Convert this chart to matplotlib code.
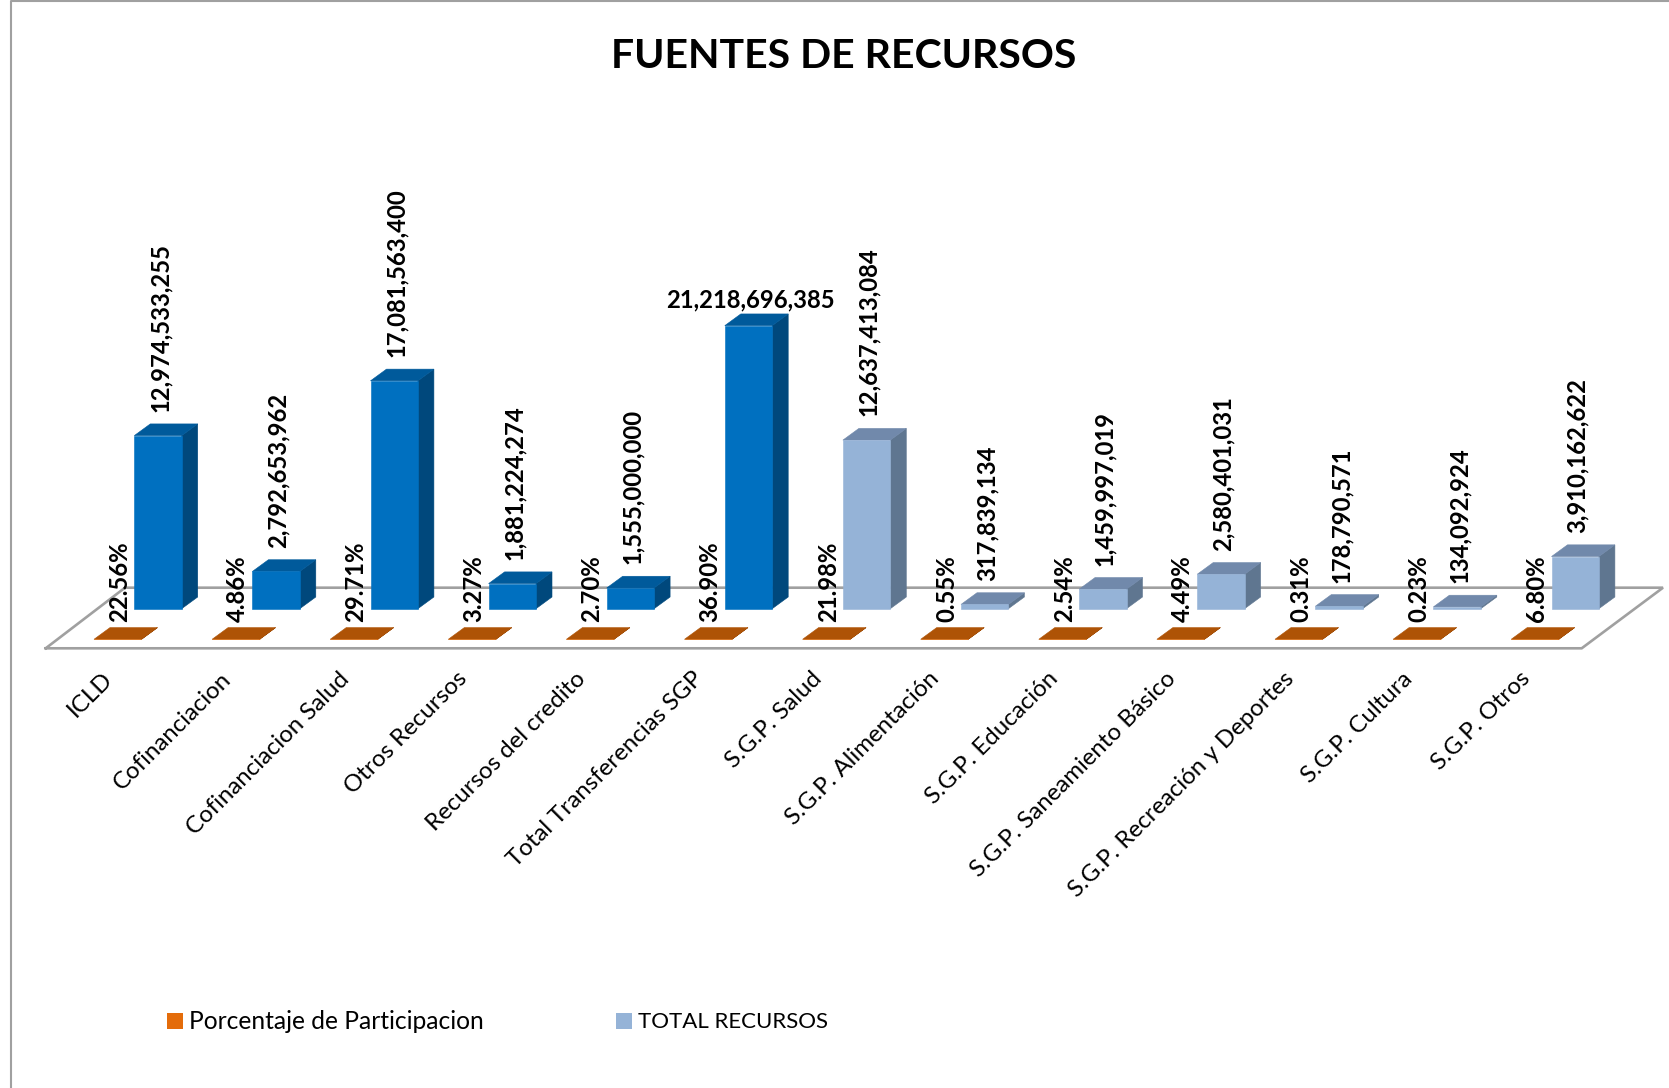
import matplotlib
matplotlib.use("Agg")
import matplotlib.pyplot as plt
from matplotlib.patches import Polygon, Rectangle

plt.rcParams["font.family"] = ["Lato", "DejaVu Sans"]

TITLE = "FUENTES DE RECURSOS"

CATEGORIES = [
    "ICLD",
    "Cofinanciacion",
    "Cofinanciacion Salud",
    "Otros Recursos",
    "Recursos del credito",
    "Total Transferencias SGP",
    "S.G.P. Salud",
    "S.G.P. Alimentación",
    "S.G.P. Educación",
    "S.G.P. Saneamiento Básico",
    "S.G.P. Recreación y Deportes",
    "S.G.P. Cultura",
    "S.G.P. Otros",
]

TOTAL_RECURSOS = [
    12974533255,
    2792653962,
    17081563400,
    1881224274,
    1555000000,
    21218696385,
    12637413084,
    317839134,
    1459997019,
    2580401031,
    178790571,
    134092924,
    3910162622,
]

PORCENTAJE = [
    22.56, 4.86, 29.71, 3.27, 2.70, 36.90, 21.98,
    0.55, 2.54, 4.49, 0.31, 0.23, 6.80,
]

# figure is laid out in reference pixels
WIDTH, HEIGHT = 1669, 1088
PX_PER_CAT = 118.1
PX_PER_VAL = 13.34e-9
X_ORIGIN = 158.0
Y_BASE = 608.7


def cat_px(px):
    return px / PX_PER_CAT


def val_px(px):
    return px / PX_PER_VAL


BAR_W = cat_px(47.4)
DEPTH_X = cat_px(16)
DEPTH_Y = val_px(11.7)

BLUE = ("#0070C0", "#005A9B", "#00487C")
LIGHT = ("#95B3D7", "#7189AB", "#5F7690")
ORANGE = ("#E46C0A", "#AE5306", "#8C4305")
LINE = "#A0A0A0"
LABEL_SIZE = 17.2


def draw_bar(ax, x, bottom, value, colors, zorder=3):
    left = x - BAR_W / 2
    right = x + BAR_W / 2
    top = bottom + value
    ax.add_patch(Polygon(
        [(right, bottom), (right + DEPTH_X, bottom + DEPTH_Y),
         (right + DEPTH_X, top + DEPTH_Y), (right, top)],
        facecolor=colors[2], edgecolor=colors[2], lw=0.4, zorder=zorder,
    ))
    ax.add_patch(Polygon(
        [(left, top), (left + DEPTH_X, top + DEPTH_Y),
         (right + DEPTH_X, top + DEPTH_Y), (right, top)],
        facecolor=colors[1], edgecolor=colors[1], lw=0.4, zorder=zorder,
    ))
    ax.add_patch(Rectangle(
        (left, bottom), BAR_W, value,
        facecolor=colors[0], edgecolor=colors[0], lw=0.4, zorder=zorder,
    ))


def main() -> None:

    fig = plt.figure(figsize=(WIDTH / 100, HEIGHT / 100), dpi=100)
    ax = fig.add_axes([0, 0, 1, 1])
    ax.set_xlim(cat_px(-X_ORIGIN), cat_px(WIDTH - X_ORIGIN))
    ax.set_ylim(val_px(Y_BASE - HEIGHT), val_px(Y_BASE))
    ax.axis("off")

    # floor
    fx = [45.7, 125, 1663, 1581.7, 45.7]
    fy = [648.3, 587.7, 587.7, 648.3, 648.3]
    ax.plot(
        [cat_px(p - X_ORIGIN) for p in fx],
        [val_px(Y_BASE - p) for p in fy],
        color=LINE, lw=1.9, zorder=1, solid_joinstyle="miter",
    )

    front_bottom = val_px(Y_BASE - 639.3)
    front_shift = cat_px(-40.3)

    for i, (total, pct) in enumerate(zip(TOTAL_RECURSOS, PORCENTAJE)):
        colors = BLUE if i < 6 else LIGHT
        draw_bar(ax, i, 0, total, colors)
        draw_bar(ax, i + front_shift, front_bottom, pct, ORANGE)

        if i == 5:
            ax.text(
                i + cat_px(2), total + DEPTH_Y + val_px(14), f"{total:,}",
                ha="center", va="center", fontsize=LABEL_SIZE,
                fontweight="bold", zorder=5,
            )
        else:
            ax.text(
                i + cat_px(2), total + DEPTH_Y + val_px(12), f"{total:,}",
                rotation=90, ha="center", va="bottom", fontsize=LABEL_SIZE,
                fontweight="bold", zorder=5,
            )

        ax.text(
            i + front_shift + cat_px(2), front_bottom + DEPTH_Y + val_px(6),
            f"{pct:.2f}%",
            rotation=90, ha="center", va="bottom", fontsize=LABEL_SIZE,
            fontweight="bold", zorder=5,
        )

        ax.text(
            i + cat_px(-56), val_px(Y_BASE - 668), CATEGORIES[i],
            rotation=45, ha="right", va="top", rotation_mode="anchor",
            fontsize=17.3, zorder=5,
        )

    ax.text(
        cat_px(844 - X_ORIGIN), val_px(Y_BASE - 57), TITLE,
        ha="center", va="center", fontsize=29.5, fontweight="bold",
    )

    # legend
    for px, label, color, size in [
        (167, "Porcentaje de Participacion", ORANGE[0], 17.7),
        (616, "TOTAL RECURSOS", LIGHT[0], 16),
    ]:
        ax.add_patch(Rectangle(
            (cat_px(px - X_ORIGIN), val_px(Y_BASE - 1028.5)),
            cat_px(15.5), val_px(15.5), facecolor=color, edgecolor="none",
        ))
        ax.text(
            cat_px(px + 22 - X_ORIGIN), val_px(Y_BASE - 1021.5), label,
            ha="left", va="center", fontsize=size,
        )

    # chart frame
    ax.plot(
        [cat_px(10.5 - X_ORIGIN), cat_px(10.5 - X_ORIGIN), cat_px(WIDTH - X_ORIGIN)],
        [val_px(Y_BASE - HEIGHT), val_px(Y_BASE - 1.5), val_px(Y_BASE - 1.5)],
        color=LINE, lw=1.5, zorder=1,
    )

    fig.savefig("out.png", dpi=100)


if __name__ == "__main__":
    main()
